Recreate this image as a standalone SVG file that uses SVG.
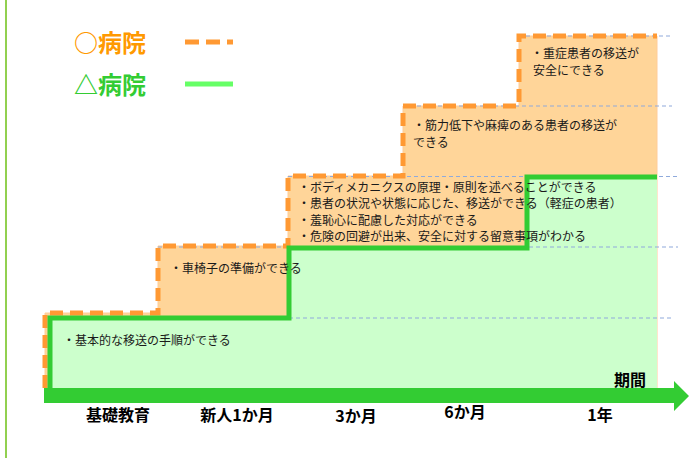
<svg xmlns="http://www.w3.org/2000/svg" width="693" height="458" viewBox="0 0 693 458">
<style>
.t{font-family:"Noto Sans CJK JP","Noto Sans CJK SC",sans-serif;font-size:12px;fill:#1a1a1a}
.ax{font-family:"Noto Sans CJK JP","Noto Sans CJK SC",sans-serif;font-size:16px;font-weight:bold;fill:#000}
.lg{font-family:"Noto Sans CJK JP","Noto Sans CJK SC",sans-serif;font-size:24px;font-weight:bold}
.grid{stroke:#8FAADC;stroke-width:1.2;stroke-dasharray:4 3;fill:none}
.od{stroke:#FF9933;stroke-width:5;stroke-dasharray:13 7;fill:none}
.gl{stroke:#33CC33;stroke-width:5;fill:none}
</style>
<rect width="693" height="458" fill="#fff"/>
<line x1="6" y1="0" x2="6" y2="458" stroke="#92D050" stroke-width="2"/>
<g id="fills">
<polygon points="45,313 158,313 158,246 288,246 288,176 403,176 403,106 519,106 519,36 657,36 657,388 45,388" fill="#FFD599" stroke="#FFCC99" stroke-width="1"/>
<polygon points="50,318 289,318 289,248 527,248 527,177 657,177 657,388 50,388" fill="#CCFFCC"/>
</g>
<g id="grid">
<line class="grid" x1="519" y1="36" x2="672" y2="36"/>
<line class="grid" x1="403" y1="106" x2="672" y2="106"/>
<line class="grid" x1="288" y1="176.5" x2="678" y2="176.5"/>
<line class="grid" x1="158" y1="247" x2="678" y2="247"/>
<line class="grid" x1="289" y1="318" x2="672" y2="318"/>
</g>
<g id="connectors">
<path class="od" d="M45,388 V313 H158 V246 H288 V176 H403 V106 H519 V36 H657"/>
<path class="gl" d="M50,388 V318 H289 V248 H527 V177 H657"/>
</g>
<g id="axis">
<polygon points="44,388 674,388 674,381 689,396 674,411 674,403 44,403" fill="#33CC33"/>
<text class="ax" x="614" y="386">期間</text>
<text class="ax" x="118" y="421" text-anchor="middle">基礎教育</text>
<text class="ax" x="237" y="421" text-anchor="middle">新人1か月</text>
<text class="ax" x="356" y="422" text-anchor="middle">3か月</text>
<text class="ax" x="465" y="418" text-anchor="middle">6か月</text>
<text class="ax" x="600" y="421" text-anchor="middle">1年</text>
</g>
<g id="legend">
<text class="lg" x="74" y="52" fill="#FF9900">○病院</text>
<line x1="185" y1="42" x2="233" y2="42" stroke="#FF9933" stroke-width="5" stroke-dasharray="14 7"/>
<text class="lg" x="74" y="94" fill="#33CC33">△病院</text>
<line x1="185" y1="84" x2="233" y2="84" stroke="#66FF66" stroke-width="5"/>
</g>
<g id="node-step1">
<text class="t" x="63" y="345">・基本的な移送の手順ができる</text>
</g>
<g id="node-step2">
<text class="t" x="170" y="273">・車椅子の準備ができる</text>
</g>
<g id="node-step3">
<text class="t" x="298" y="192">・ボディメカニクスの原理・原則を述べることができる</text>
<text class="t" x="298" y="208">・患者の状況や状態に応じた、移送ができる（軽症の患者）</text>
<text class="t" x="298" y="225">・羞恥心に配慮した対応ができる</text>
<text class="t" x="298" y="241">・危険の回避が出来、安全に対する留意事項がわかる</text>
</g>
<g id="node-step4">
<text class="t" x="413" y="130">・筋力低下や麻痺のある患者の移送が</text>
<text class="t" x="413" y="147">できる</text>
</g>
<g id="node-step5">
<text class="t" x="531" y="58">・重症患者の移送が</text>
<text class="t" x="533" y="75">安全にできる</text>
</g>
</svg>
